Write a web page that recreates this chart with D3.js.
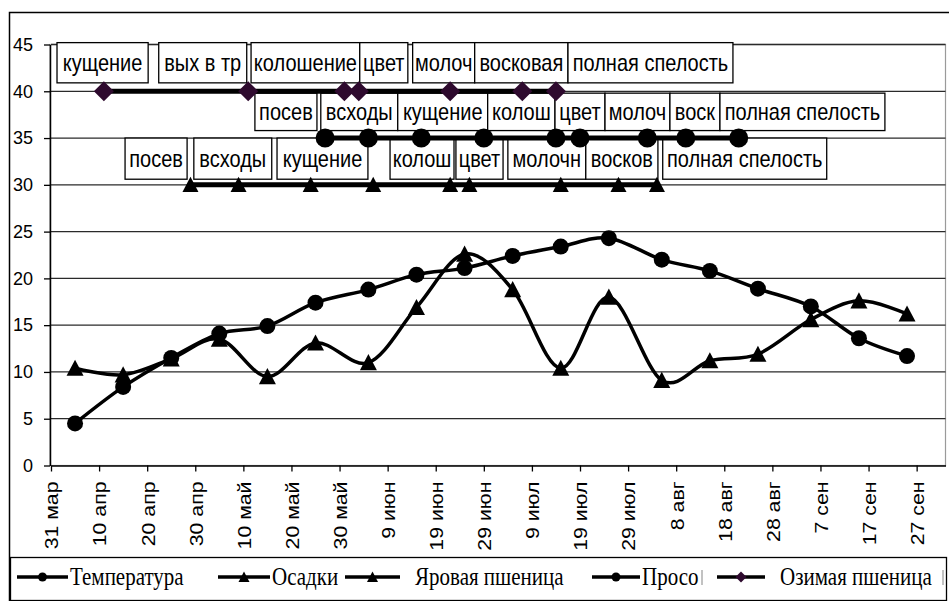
<!DOCTYPE html>
<html>
<head>
<meta charset="utf-8">
<script src="https://cdn.jsdelivr.net/npm/d3@7"></script>
<style>
  html, body { margin: 0; padding: 0; background: #fff; }
  svg { display: block; }
</style>
</head>
<body>
<div id="chart"></div>
<script>
// Days counted from 31 March; decade (10-day) means are plotted at the 5th, 15th and 25th.
const decadeDays = [5, 15, 25, 35, 45, 55, 66, 76, 86, 96, 106, 116, 127, 137, 147, 158, 168, 178];
const temperature = [4.5, 8.4, 11.5, 14.1, 14.9, 17.4, 18.8, 20.4, 21.1, 22.4, 23.4, 24.3, 22.0, 20.8, 18.9, 17.0, 13.6, 11.7];
const precipitation = [10.4, 9.7, 11.4, 13.5, 9.5, 13.1, 11.0, 16.9, 22.6, 18.8, 10.4, 18.0, 9.1, 11.2, 11.9, 15.6, 17.6, 16.2];

// Phenological phase dates (days from 31 March) and the level each crop is drawn at.
const winterWheatDays = [11, 41, 61, 64, 83, 98, 105];
const milletDays = [57, 66, 77, 90, 105, 110, 124, 132, 143];
const springWheatDays = [29, 39, 54, 67, 83, 87, 106, 118, 126];
const winterWheatLevel = 40;
const milletLevel = 35;
const springWheatLevel = 30;

const winterWheatStages = ["кущение", "вых в тр", "колошение", "цвет", "молоч", "восковая", "полная спелость"];
const milletStages = ["посев", "всходы", "кущение", "колош", "цвет", "молоч", "воск", "полная спелость"];
const springWheatStages = ["посев", "всходы", "кущение", "колош", "цвет", "молочн", "восков", "полная спелость"];

// Axis ticks
const xTickDays = [0, 10, 20, 30, 40, 50, 60, 70, 80, 90, 100, 110, 120, 130, 140, 150, 160, 170, 180];
const xTickLabels = ["31 мар", "10 апр", "20 апр", "30 апр", "10 май", "20 май", "30 май", "9 июн", "19 июн",
  "29 июн", "9 июл", "19 июл", "29 июл", "8 авг", "18 авг", "28 авг", "7 сен", "17 сен", "27 сен"];
const yTicks = [0, 5, 10, 15, 20, 25, 30, 35, 40, 45];

const seriesNames = ["Температура", "Осадки", "Яровая пшеница", "Просо", "Озимая пшеница"];

// Hand-placed phase label boxes: [start, end] in days, and the value band of each row.
const winterBoxSpans = [[1.25, 20.2], [22.4, 40.7], [41.6, 64.2], [64.2, 74.2], [75.2, 88.1], [88.1, 107.5], [107.5, 141.8]];
const milletBoxSpans = [[42.4, 55.3], [56.1, 72.1], [72.1, 90.8], [90.8, 104.8], [104.8, 115.2], [115.2, 128.7], [128.7, 139.1], [139.1, 173.4]];
const springBoxSpans = [[15.4, 28.3], [29.7, 45.9], [47.0, 65.9], [70.5, 83.8], [84.2, 94.0], [95.0, 111.2], [111.2, 126.2], [127.2, 161.3]];
const winterBand = [40.9, 45.2];
const milletBand = [35.8, 39.8];
const springBand = [30.6, 35.0];

const W = 949, H = 601;
const svg = d3.select("#chart").append("svg").attr("width", W).attr("height", H);
svg.append("rect").attr("width", W).attr("height", H).attr("fill", "#fff");

const x = d3.scaleLinear().domain([0, 186]).range([51, 945.5]);
const y = d3.scaleLinear().domain([0, 45]).range([465.5, 44.5]);

const SANS = "'Liberation Sans', Arial, sans-serif";
const SERIF = "'Liberation Serif', 'Times New Roman', serif";
const DIAMOND = "#2e0a2e";

// Chart frame
svg.append("rect").attr("x", 9.5).attr("y", 12.5).attr("width", 950).attr("height", 600)
  .attr("fill", "none").attr("stroke", "#000").attr("stroke-width", 1.5);

// Plot area outline
svg.append("rect").attr("x", x(0) - 1).attr("y", y(45)).attr("width", x.range()[1] - x(0) + 1).attr("height", y(0) - y(45))
  .attr("fill", "none").attr("stroke", "#9a9a9a").attr("stroke-width", 1.2);

// Horizontal gridlines
svg.append("g").selectAll("line").data(yTicks.filter(v => v > 0)).join("line")
  .attr("x1", x(0)).attr("x2", x.range()[1]).attr("y1", d => y(d)).attr("y2", d => y(d))
  .attr("stroke", "#2a2a2a").attr("stroke-width", 1.3);

// Axes
const yAxis = svg.append("g").attr("transform", `translate(${x(0) - 1},0)`)
  .call(d3.axisLeft(y).tickValues(yTicks).tickSize(6).tickSizeOuter(0).tickPadding(11));
yAxis.select(".domain").attr("stroke", "#000").attr("stroke-width", 1.5);
yAxis.selectAll(".tick line").attr("stroke", "#000").attr("stroke-width", 1.3);
yAxis.selectAll(".tick text").attr("font-family", SANS).attr("font-size", 18).attr("fill", "#000");

const xAxis = svg.append("g").attr("transform", `translate(0,${y(0)})`)
  .call(d3.axisBottom(x).tickValues(xTickDays).tickSize(6).tickSizeOuter(0)
    .tickFormat((d, i) => xTickLabels[i]));
xAxis.select(".domain").attr("stroke", "#000").attr("stroke-width", 1.5);
xAxis.selectAll(".tick line").attr("stroke", "#000").attr("stroke-width", 1.3);
xAxis.selectAll(".tick text")
  .attr("font-family", SANS).attr("font-size", 19).attr("fill", "#000")
  .attr("transform", "rotate(-90) scale(1.12,1)")
  .attr("text-anchor", "end").attr("x", -14.3).attr("y", 0).attr("dy", "0.36em");

// Marker shapes
const trianglePath = s => `M0,${-s}L${s},${s * 0.9}L${-s},${s * 0.9}Z`;
const diamondPath = s => `M0,${-s}L${s},0L0,${s}L${-s},0Z`;

// Phase label boxes
function drawBoxes(stages, spans, band) {
  const g = svg.append("g");
  stages.forEach((t, i) => {
    const [a, b] = spans[i];
    const x0 = x(a), x1 = x(b), yt = y(band[1]), yb = y(band[0]);
    g.append("rect").attr("x", x0).attr("y", yt).attr("width", x1 - x0).attr("height", yb - yt)
      .attr("fill", "#fff").attr("stroke", "#000").attr("stroke-width", 1.3);
    g.append("text").attr("transform", `translate(${(x0 + x1) / 2},${(yt + yb) / 2}) scale(1,1.2)`)
      .attr("dy", "0.35em")
      .attr("text-anchor", "middle").attr("font-family", SANS).attr("font-size", 20).attr("fill", "#000")
      .text(t);
  });
}
drawBoxes(winterWheatStages, winterBoxSpans, winterBand);
drawBoxes(milletStages, milletBoxSpans, milletBand);
drawBoxes(springWheatStages, springBoxSpans, springBand);

// Phenology lines
function phaseLine(days, level, marker, color) {
  const g = svg.append("g");
  g.append("path").datum(days)
    .attr("d", d3.line().x(d => x(d)).y(() => y(level)))
    .attr("fill", "none").attr("stroke", "#000").attr("stroke-width", 5);
  if (marker === "circle") {
    g.selectAll("circle").data(days).join("circle")
      .attr("cx", d => x(d)).attr("cy", y(level)).attr("r", 9.5).attr("fill", color);
  } else {
    g.selectAll("path.m").data(days).join("path").attr("class", "m")
      .attr("transform", d => `translate(${x(d)},${y(level)})`)
      .attr("d", marker === "triangle" ? trianglePath(8) : diamondPath(10)).attr("fill", color);
  }
}
phaseLine(springWheatDays, springWheatLevel, "triangle", "#000");
phaseLine(milletDays, milletLevel, "circle", "#000");
phaseLine(winterWheatDays, winterWheatLevel, "diamond", DIAMOND);

// Weather series
const smooth = d3.line().curve(d3.curveCatmullRom.alpha(0)).x(d => x(d[0])).y(d => y(d[1]));
const tempPts = decadeDays.map((d, i) => [d, temperature[i]]);
const precPts = decadeDays.map((d, i) => [d, precipitation[i]]);

svg.append("path").datum(precPts).attr("d", smooth)
  .attr("fill", "none").attr("stroke", "#000").attr("stroke-width", 3.5).attr("stroke-linejoin", "round");
svg.append("g").selectAll("path").data(precPts).join("path")
  .attr("transform", d => `translate(${x(d[0])},${y(d[1])})`).attr("d", trianglePath(8.5)).attr("fill", "#000");

svg.append("path").datum(tempPts).attr("d", smooth)
  .attr("fill", "none").attr("stroke", "#000").attr("stroke-width", 3.5).attr("stroke-linejoin", "round");
svg.append("g").selectAll("circle").data(tempPts).join("circle")
  .attr("cx", d => x(d[0])).attr("cy", d => y(d[1])).attr("r", 8).attr("fill", "#000");

// Legend
const legend = svg.append("g");
legend.append("rect").attr("x", 10.5).attr("y", 557.5).attr("width", 936).attr("height", 43)
  .attr("fill", "#fff").attr("stroke", "#000").attr("stroke-width", 1.3);
const ly = 577;
const legendItems = [
  { name: seriesNames[0], x1: 17, x2: 68, tx: 70, marker: "circle", color: "#000" },
  { name: seriesNames[1], x1: 218, x2: 270, tx: 272, marker: "triangle", color: "#000" },
  { name: seriesNames[2], x1: 345, x2: 400, tx: 415, marker: "triangle", color: "#000" },
  { name: seriesNames[3], x1: 592, x2: 640, tx: 642, marker: "circle", color: "#000" },
  { name: seriesNames[4], x1: 717, x2: 765, tx: 780, marker: "diamond", color: DIAMOND }
];
legendItems.forEach(it => {
  legend.append("line").attr("x1", it.x1).attr("x2", it.x2).attr("y1", ly).attr("y2", ly)
    .attr("stroke", "#000").attr("stroke-width", 3.5);
  const cx = (it.x1 + it.x2) / 2;
  if (it.marker === "circle") {
    legend.append("circle").attr("cx", cx).attr("cy", ly).attr("r", 4.5).attr("fill", it.color);
  } else {
    legend.append("path").attr("transform", `translate(${cx},${ly})`)
      .attr("d", it.marker === "triangle" ? trianglePath(5.5) : diamondPath(5.5)).attr("fill", it.color);
  }
  legend.append("text").attr("transform", `translate(${it.tx},${ly}) scale(1,1.2)`).attr("dy", "0.33em")
    .attr("font-family", SERIF).attr("font-size", 21).attr("fill", "#000").text(it.name);
});
// clipped entry edges at the legend's right
[702, 943].forEach(bx => legend.append("line").attr("x1", bx).attr("x2", bx).attr("y1", 570).attr("y2", 585)
  .attr("stroke", "#999").attr("stroke-width", 1.2));
</script>
</body>
</html>
